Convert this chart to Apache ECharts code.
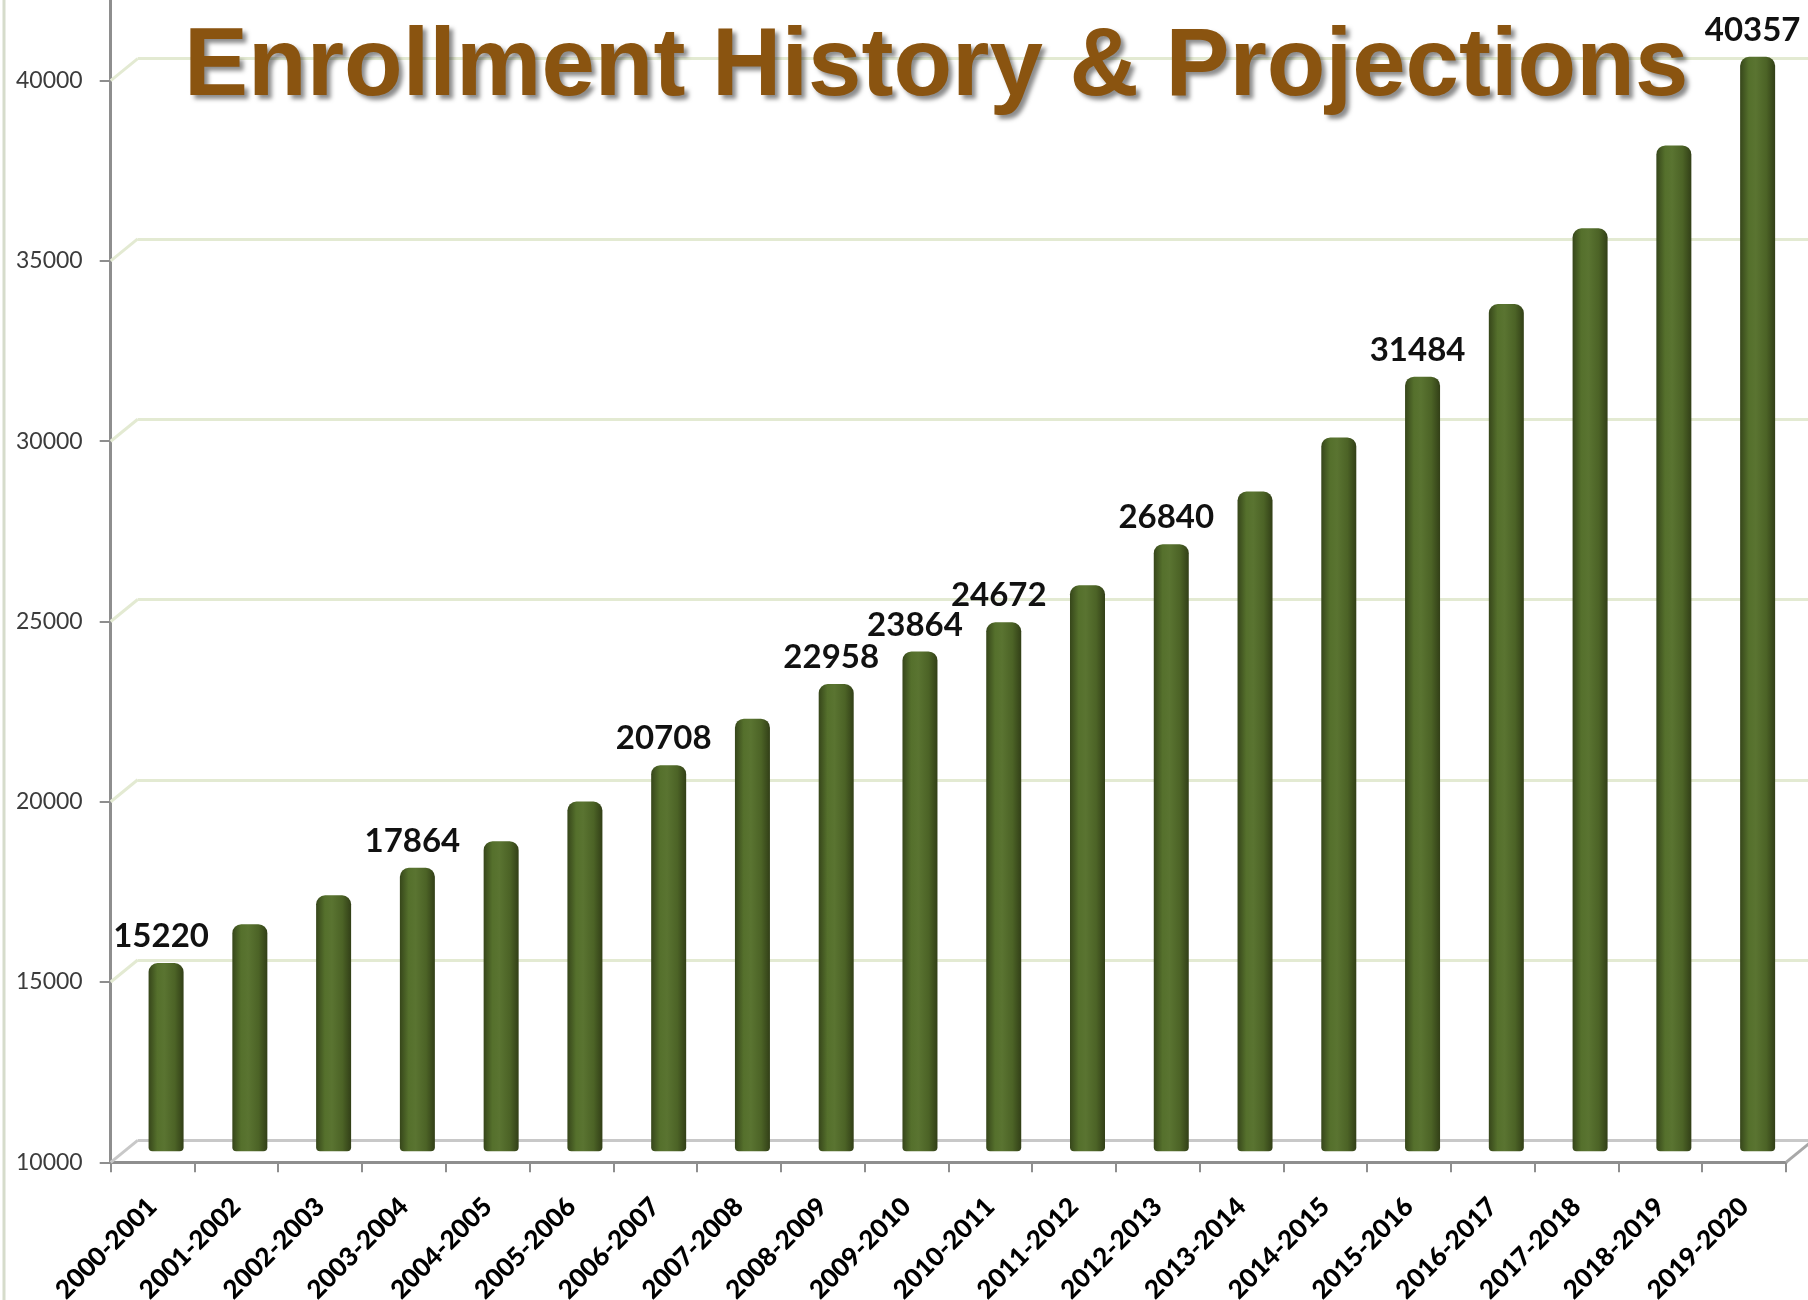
<!DOCTYPE html>
<html>
<head>
<meta charset="utf-8">
<script src="https://cdn.jsdelivr.net/npm/echarts@6/dist/echarts.min.js"></script>
<style>
html,body{margin:0;padding:0;background:#fff;}
#chart{width:1808px;height:1300px;}
</style>
</head>
<body>
<div id="chart"></div>
<script>
const categories = ['2000-2001','2001-2002','2002-2003','2003-2004','2004-2005','2005-2006','2006-2007','2007-2008','2008-2009','2009-2010','2010-2011','2011-2012','2012-2013','2013-2014','2014-2015','2015-2016','2016-2017','2017-2018','2018-2019','2019-2020'];
const enrollment = [15220,16300,17100,17864,18600,19700,20708,22000,22958,23864,24672,25700,26840,28300,29800,31484,33500,35600,37900,40357];
const labeledYears = ['2000-2001','2003-2004','2006-2007','2008-2009','2009-2010','2010-2011','2012-2013','2015-2016','2019-2020'];
const yMin = 10000, yMax = 45000, yStep = 5000;
const titleText = 'Enrollment History & Projections';

const tickValues = [];
for (let v = yMin; v <= yMax; v += yStep) tickValues.push(v);

// 3D depth offsets (front axis -> back wall)
const DX = 27, DY = 22;
const front = {left: 110.7, right: 22, top: -99.6, bottom: 137.7};
function shift(f, k) {
  return {left: f.left + DX * k, right: f.right - DX * k, top: f.top - DY * k, bottom: f.bottom + DY * k,
    containLabel: false, outerBoundsMode: 'none'};
}
const mid = shift(front, 0.5), back = shift(front, 1), frontGrid = shift(front, 0);

const barData = enrollment.map((v, i) => ({
  value: v,
  label: {show: labeledYears.indexOf(categories[i]) >= 0}
}));

const chart = echarts.init(document.getElementById('chart'), null, {renderer: 'canvas'});
const hiddenX = (gi) => ({type: 'category', gridIndex: gi, data: categories, show: true,
  axisLine: {show: false}, axisTick: {show: false}, axisLabel: {show: false}, splitLine: {show: false}});
const gridColors = tickValues.map((v, i) => i === 0 ? '#c8c8c8' : '#e3ead2');

chart.setOption({
  backgroundColor: '#ffffff',
  animation: false,
  title: {
    text: titleText, left: 184, top: 21, padding: 0, z: 10,
    textStyle: {fontFamily: 'Liberation Sans, Arial, sans-serif', fontWeight: 'bold', fontSize: 96,
      color: '#8a5410', textShadowColor: 'rgba(0,0,0,0.45)', textShadowBlur: 4,
      textShadowOffsetX: 4, textShadowOffsetY: 4}
  },
  graphic: [{type: 'line', shape: {x1: 4, y1: 0, x2: 4, y2: 1300}, style: {stroke: '#d6dccb', lineWidth: 3}, silent: true}],
  grid: [back, mid, frontGrid],
  xAxis: [
    hiddenX(0),
    hiddenX(1),
    {type: 'category', gridIndex: 2, data: categories,
      axisLine: {show: true, lineStyle: {color: '#8e8e8e', width: 3}},
      axisTick: {show: true, length: 10, lineStyle: {color: '#8e8e8e', width: 2}},
      axisLabel: {interval: 0, rotate: 45, margin: 40, color: '#000', fontFamily: 'Lato, sans-serif',
        fontWeight: 900, fontSize: 26},
      splitLine: {show: false}}
  ],
  yAxis: [
    {type: 'value', gridIndex: 0, min: yMin, max: yMax, interval: yStep,
      axisLine: {show: false}, axisTick: {show: false}, axisLabel: {show: false},
      splitLine: {show: true, lineStyle: {color: gridColors, width: 3}}},
    {type: 'value', gridIndex: 1, min: yMin, max: yMax, interval: yStep,
      axisLine: {show: false}, axisTick: {show: false}, axisLabel: {show: false}, splitLine: {show: false}},
    {type: 'value', gridIndex: 2, min: yMin, max: yMax, interval: yStep,
      axisLine: {show: true, lineStyle: {color: '#8e8e8e', width: 3}},
      axisTick: {show: true, length: 11, lineStyle: {color: '#8e8e8e', width: 2}},
      axisLabel: {margin: 28, color: '#3c3c3c', fontFamily: 'Lato, sans-serif', fontSize: 23,
        showMaxLabel: false, formatter: v => String(v)},
      splitLine: {show: false}}
  ],
  series: [
    {
      type: 'custom', xAxisIndex: 2, yAxisIndex: 2, z: 1, silent: true,
      data: tickValues.filter(v => v < yMax).map(v => [0, v]),
      renderItem: function (params, api) {
        const cs = params.coordSys;
        const y = api.coord([0, api.value(1)])[1];
        const isFloor = api.value(1) === yMin;
        const children = [{type: 'line', shape: {x1: cs.x, y1: y, x2: cs.x + DX, y2: y - DY},
          style: {stroke: isFloor ? '#c8c8c8' : '#e3ead2', lineWidth: 3}}];
        if (isFloor) {
          children.push({type: 'line', shape: {x1: cs.x + cs.width, y1: y, x2: cs.x + cs.width + DX, y2: y - DY},
            style: {stroke: '#a8a8a8', lineWidth: 3}});
        }
        return {type: 'group', children: children};
      }
    },
    {
      type: 'bar', xAxisIndex: 1, yAxisIndex: 1, z: 3,
      barWidth: 35,
      data: barData,
      itemStyle: {
        borderRadius: [9, 9, 4, 4],
        color: new echarts.graphic.LinearGradient(0, 0, 1, 0, [
          {offset: 0, color: '#36461a'},
          {offset: 0.25, color: '#55702c'},
          {offset: 0.45, color: '#5a7431'},
          {offset: 0.75, color: '#4c6326'},
          {offset: 1, color: '#323f17'}
        ])
      },
      label: {
        position: 'top', distance: 10, offset: [-5, 0],
        color: '#111', fontFamily: 'Lato, sans-serif', fontWeight: 'bold', fontSize: 33
      }
    }
  ]
});
</script>
</body>
</html>
